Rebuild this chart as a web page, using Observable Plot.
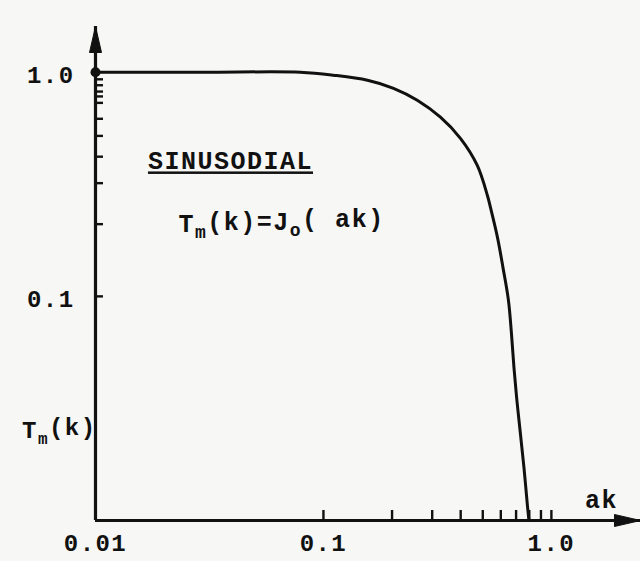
<!DOCTYPE html>
<html>
<head>
<meta charset="utf-8">
<script src="https://cdn.jsdelivr.net/npm/d3@7"></script>
<script src="https://cdn.jsdelivr.net/npm/@observablehq/plot@0.6"></script>
<style>
  html, body { margin: 0; padding: 0; background: #f7f7f5; }
  svg text {
    font-family: "Liberation Mono", "DejaVu Sans Mono", monospace;
    font-weight: bold;
    letter-spacing: 0.06em;
  }
</style>
</head>
<body>
<div id="chart"></div>
<script>
// Modulation transfer of a sinusoidal profile, T_m(k) = J0(ak), on log–log axes
const ak       = [0.01, 0.03, 0.0793, 0.1106, 0.156, 0.203, 0.258, 0.326, 0.399, 0.473, 0.524, 0.540, 0.580, 0.613, 0.648, 0.668, 0.685, 0.706, 0.731, 0.758, 0.785, 0.797];
const transfer = [1.0,  1.0,  1.0,    0.970,  0.921, 0.848, 0.750, 0.630, 0.507, 0.384, 0.282, 0.250, 0.1834, 0.1347, 0.096, 0.0684, 0.0482, 0.0343, 0.0245, 0.01724, 0.01166, 0.0100];

// Axis extents (the axes end in arrowheads)
const xDomain = [0.01, 2.46];
const yDomain = [0.01, 1.6];

// Labelled ticks
const xLabelValues = [0.01, 0.1, 1];
const xLabelText   = ["0.01", "0.1", "1.0"];
const yLabelValues = [1, 0.1];
const yLabelText   = ["1.0", "0.1"];

// Unlabelled tick marks drawn inside the axes
const xMinorTicks = [0.1, 0.2, 0.3, 0.4, 0.5, 0.6, 0.7, 0.8, 0.9, 1.0];
const yMinorTicks = [0.93, 0.875, 0.82, 0.78, 0.73, 0.62, 0.52, 0.42, 0.32, 0.21, 0.1];

// Annotations; subscripted pieces are flagged true
const titleText    = "SINUSODIAL";
const formulaParts = [["T", false], ["m", true], ["(k)=J", false], ["o", true], ["( ak)", false]];
const yTitleParts  = [["T", false], ["m", true], ["(k)", false]];
const xAxisTitle   = "ak";

const joinParts = parts => parts.map(p => p[0]).join("");
const formulaText = joinParts(formulaParts);
const yAxisTitle  = joinParts(yTitleParts);

const curve = ak.map((a, i) => ({a, t: transfer[i]}));
const xFmt = new Map(xLabelValues.map((v, i) => [v, xLabelText[i]]));
const yFmt = new Map(yLabelValues.map((v, i) => [v, yLabelText[i]]));

// Narrow filled arrowhead with its tip at the anchor point, pointing up
const arrowHead = {
  draw(context) {
    context.moveTo(0, 0);
    context.lineTo(6, 26);
    context.lineTo(-6, 26);
    context.closePath();
  }
};

const chart = Plot.plot({
  width: 640,
  height: 561,
  marginLeft: 95,
  marginRight: 0,
  marginTop: 26,
  marginBottom: 41,
  x: {type: "log", domain: xDomain},
  y: {type: "log", domain: yDomain},
  style: {background: "#f7f7f5", color: "#111", fontFamily: "Liberation Mono"},
  marks: [
    // axis lines
    Plot.ruleX([xDomain[0]], {strokeWidth: 3.2}),
    Plot.ruleY([yDomain[0]], {strokeWidth: 3.2}),
    Plot.dot([{x: xDomain[0], y: yDomain[1]}], {x: "x", y: "y", symbol: arrowHead, fill: "currentColor", stroke: "currentColor", strokeWidth: 1, r: 5}),
    Plot.dot([{x: xDomain[1], y: yDomain[0]}], {x: "x", y: "y", symbol: arrowHead, rotate: 90, fill: "currentColor", stroke: "currentColor", strokeWidth: 1, r: 5}),

    // inward tick marks
    Plot.axisY({ticks: yMinorTicks, tickSize: 8, dx: 8, strokeWidth: 2.4, tickFormat: () => "", label: null}),
    Plot.axisX({ticks: xMinorTicks, tickSize: 10, dy: -10, strokeWidth: 2.4, tickFormat: () => "", label: null}),

    // tick labels
    Plot.axisY({ticks: yLabelValues, tickSize: 0, tickPadding: 21, dy: 3, fontSize: 24, tickFormat: d => yFmt.get(d), label: null}),
    Plot.axisX({ticks: xLabelValues, tickSize: 0, tickPadding: 13, fontSize: 24, tickFormat: d => xFmt.get(d), label: null}),

    // transfer curve
    Plot.line(curve, {x: "a", y: "t", curve: "catmull-rom", strokeWidth: 3}),
    Plot.dot(curve.slice(0, 1), {x: "a", y: "t", r: 5, fill: "currentColor"}),

    // annotations
    Plot.text([{x: 0.0391, y: 0.40, s: titleText}], {x: "x", y: "y", text: "s", fontSize: 25}),
    Plot.text([{x: 0.0655, y: 0.21, s: formulaText}], {x: "x", y: "y", text: "s", fontSize: 25}),
    Plot.text([{x: xDomain[0], y: 0.0252, s: yAxisTitle}], {x: "x", y: "y", text: "s", textAnchor: "end", dx: 1, fontSize: 24}),
    Plot.text([{x: 1.66, y: 0.0124, s: xAxisTitle}], {x: "x", y: "y", text: "s", fontSize: 25})
  ]
});

// underline the title
d3.select(chart).selectAll("text")
  .filter(function () { return this.textContent === titleText; })
  .style("text-decoration", "underline")
  .style("text-decoration-thickness", "3px")
  .style("text-underline-offset", "7px");

// typeset subscripts as lowered tspans
function setSubscripts(content, parts, subSize) {
  d3.select(chart).selectAll("text")
    .filter(function () { return this.textContent === content; })
    .each(function () {
      const t = d3.select(this);
      t.text(null);
      let lowered = false;
      for (const [s, sub] of parts) {
        const span = t.append("tspan").text(s);
        if (sub) {
          span.attr("dy", "0.35em").attr("font-size", subSize);
          lowered = true;
        } else if (lowered) {
          span.attr("dy", "-0.35em");
          lowered = false;
        }
      }
    });
}
setSubscripts(formulaText, formulaParts, 18);
setSubscripts(yAxisTitle, yTitleParts, 16);

document.getElementById("chart").append(chart);
</script>
</body>
</html>
